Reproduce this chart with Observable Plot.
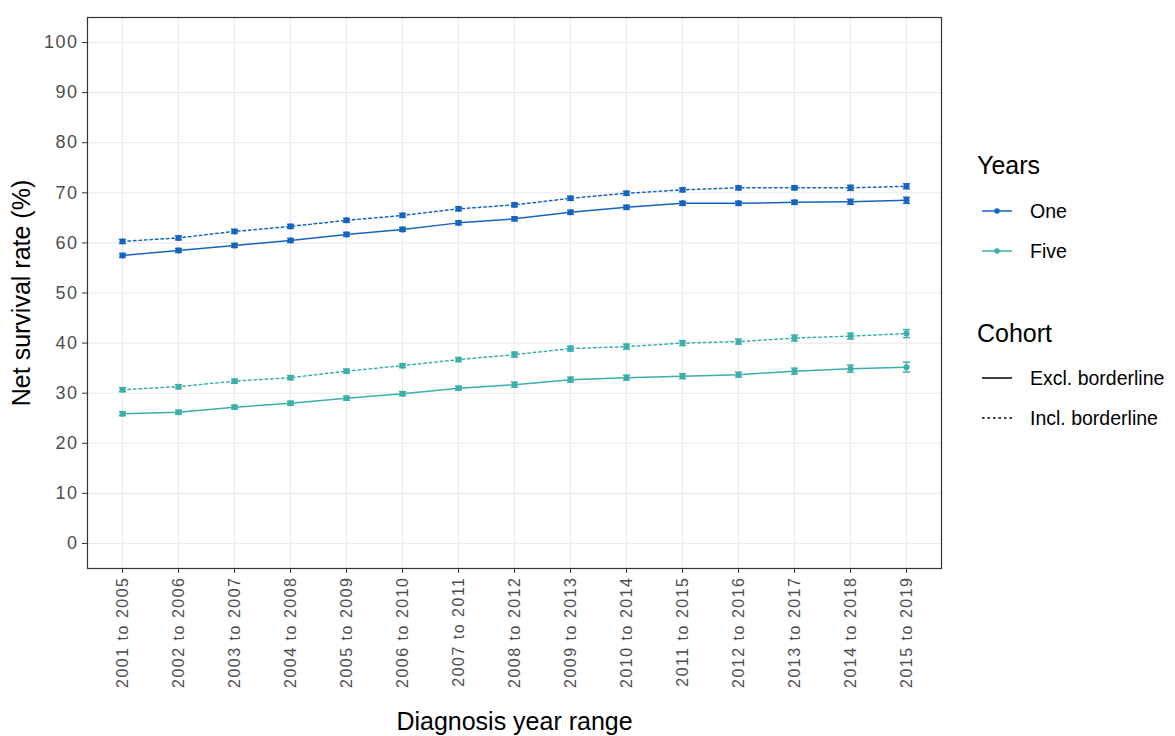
<!DOCTYPE html>
<html>
<head>
<meta charset="utf-8">
<script src="https://cdn.jsdelivr.net/npm/d3@7"></script>
<script src="https://cdn.jsdelivr.net/npm/@observablehq/plot@0.6"></script>
<style>
  html, body { margin: 0; padding: 0; background: #fff; }
  #wrap { position: relative; width: 1175px; height: 736px; font-family: "Liberation Sans", Arial, sans-serif; }
  #legend { position: absolute; left: 960px; top: 0; }
  g[aria-label="y-axis tick label"] text { letter-spacing: 1.5px; }
  g[aria-label="x-axis tick label"] text { letter-spacing: 1.5px; }
</style>
</head>
<body>
<div id="wrap"></div>
<script>
// ---- Data ----
const ranges = ["2001 to 2005","2002 to 2006","2003 to 2007","2004 to 2008","2005 to 2009","2006 to 2010","2007 to 2011","2008 to 2012","2009 to 2013","2010 to 2014","2011 to 2015","2012 to 2016","2013 to 2017","2014 to 2018","2015 to 2019"];
const oneExcl  = [57.5,58.5,59.5,60.5,61.7,62.7,64.0,64.8,66.1,67.1,67.9,67.9,68.1,68.2,68.5];
const oneIncl  = [60.3,61.0,62.3,63.3,64.5,65.5,66.8,67.6,68.9,69.9,70.6,71.0,71.0,71.0,71.3];
const fiveExcl = [25.9,26.2,27.2,28.0,29.0,29.9,31.0,31.7,32.7,33.1,33.4,33.7,34.4,34.9,35.2];
const fiveIncl = [30.7,31.3,32.4,33.1,34.4,35.5,36.7,37.7,38.9,39.3,40.0,40.3,41.0,41.4,41.9];
// half-widths of the confidence intervals
const ciOneExcl  = [0.4,0.4,0.4,0.4,0.4,0.4,0.4,0.4,0.4,0.4,0.4,0.4,0.4,0.5,0.6];
const ciOneIncl  = [0.4,0.4,0.4,0.4,0.4,0.4,0.4,0.4,0.4,0.4,0.4,0.4,0.4,0.5,0.5];
const ciFiveExcl = [0.4,0.4,0.4,0.4,0.4,0.4,0.4,0.5,0.5,0.5,0.5,0.5,0.6,0.7,1.0];
const ciFiveIncl = [0.4,0.4,0.4,0.4,0.4,0.4,0.4,0.5,0.5,0.5,0.5,0.5,0.6,0.6,0.8];
const yearsLabels = ["One","Five"];
const cohortLabels = ["Excl. borderline","Incl. borderline"];
const yTicks = [0,10,20,30,40,50,60,70,80,90,100];
const colors = {One: "#1565c0", Five: "#3aafac"};

// ---- Build table ----
function build(vals, ci, years, cohort) {
  return vals.map((v, i) => ({range: ranges[i], value: v, lo: v - ci[i], hi: v + ci[i], years, cohort}));
}
const rows = [
  ...build(oneExcl, ciOneExcl, "One", "Excl. borderline"),
  ...build(oneIncl, ciOneIncl, "One", "Incl. borderline"),
  ...build(fiveExcl, ciFiveExcl, "Five", "Excl. borderline"),
  ...build(fiveIncl, ciFiveIncl, "Five", "Incl. borderline")
];
const excl = rows.filter(d => d.cohort === "Excl. borderline");
const incl = rows.filter(d => d.cohort === "Incl. borderline");

const cap = {draw(ctx, size) { const w = 3.5; ctx.moveTo(-w, 0); ctx.lineTo(w, 0); }};

const chart = Plot.plot({
  width: 1175, height: 736,
  marginLeft: 87, marginRight: 234, marginTop: 17, marginBottom: 168,
  style: {fontFamily: "'Liberation Sans', Arial, sans-serif", background: "#fff"},
  x: {type: "point", domain: ranges, padding: 0.6},
  y: {domain: [-5, 105]},
  color: {domain: yearsLabels, range: [colors.One, colors.Five]},
  marks: [
    Plot.gridY(yTicks, {stroke: "#ebebeb", strokeOpacity: 1, strokeWidth: 1.1}),
    Plot.gridX(ranges, {stroke: "#ebebeb", strokeOpacity: 1, strokeWidth: 1.1}),
    Plot.line(excl, {x: "range", y: "value", z: "years", stroke: "years", strokeWidth: 1.5}),
    Plot.line(incl, {x: "range", y: "value", z: "years", stroke: "years", strokeWidth: 1.5, strokeDasharray: "2.5,3"}),
    Plot.ruleX(rows, {x: "range", y1: "lo", y2: "hi", stroke: "years", strokeWidth: 1.5}),
    Plot.dot(rows, {x: "range", y: "lo", symbol: cap, r: 3, stroke: "years", strokeWidth: 1.5, fill: "none"}),
    Plot.dot(rows, {x: "range", y: "hi", symbol: cap, r: 3, stroke: "years", strokeWidth: 1.5, fill: "none"}),
    Plot.dot(rows, {x: "range", y: "value", fill: "years", r: 3}),
    Plot.frame({stroke: "#333", strokeWidth: 1.2}),
    Plot.axisY(yTicks, {tickSize: 5, tickPadding: 4, fontSize: 18, fill: "#4d4d4d", stroke: "#333", label: null}),
    Plot.axisX(ranges, {tickSize: 5, tickPadding: 3, tickRotate: -90, fontSize: 16, fill: "#4d4d4d", stroke: "#333", label: null}),
    Plot.text(["Net survival rate (%)"], {frameAnchor: "left", dx: -66, rotate: -90, textAnchor: "middle", fontSize: 25, fill: "#000"}),
    Plot.text(["Diagnosis year range"], {frameAnchor: "bottom", dy: 161, textAnchor: "middle", fontSize: 25, fill: "#000"})
  ]
});
document.getElementById("wrap").appendChild(chart);

// ---- Legend ----
const legend = `
<svg id="legend" width="215" height="736" font-family="'Liberation Sans', Arial, sans-serif">
  <text x="17" y="174" font-size="25" fill="#000">Years</text>
  ${yearsLabels.map((k, i) => `
    <line x1="22" x2="52" y1="${211 + i*40}" y2="${211 + i*40}" stroke="${colors[k]}" stroke-width="1.5"/>
    <circle cx="37" cy="${211 + i*40}" r="2.8" fill="${colors[k]}"/>
    <text x="70" y="${218 + i*40}" font-size="19.5" fill="#000">${k}</text>`).join("")}
  <text x="17" y="342" font-size="25" fill="#000">Cohort</text>
  ${cohortLabels.map((k, i) => `
    <line x1="22" x2="52" y1="${378 + i*40}" y2="${378 + i*40}" stroke="#000" stroke-width="1.5" ${i === 1 ? 'stroke-dasharray="2.5,3"' : ''}/>
    <text x="70" y="${385 + i*40}" font-size="19.5" fill="#000">${k}</text>`).join("")}
</svg>`;
document.getElementById("wrap").insertAdjacentHTML("beforeend", legend);
</script>
</body>
</html>
